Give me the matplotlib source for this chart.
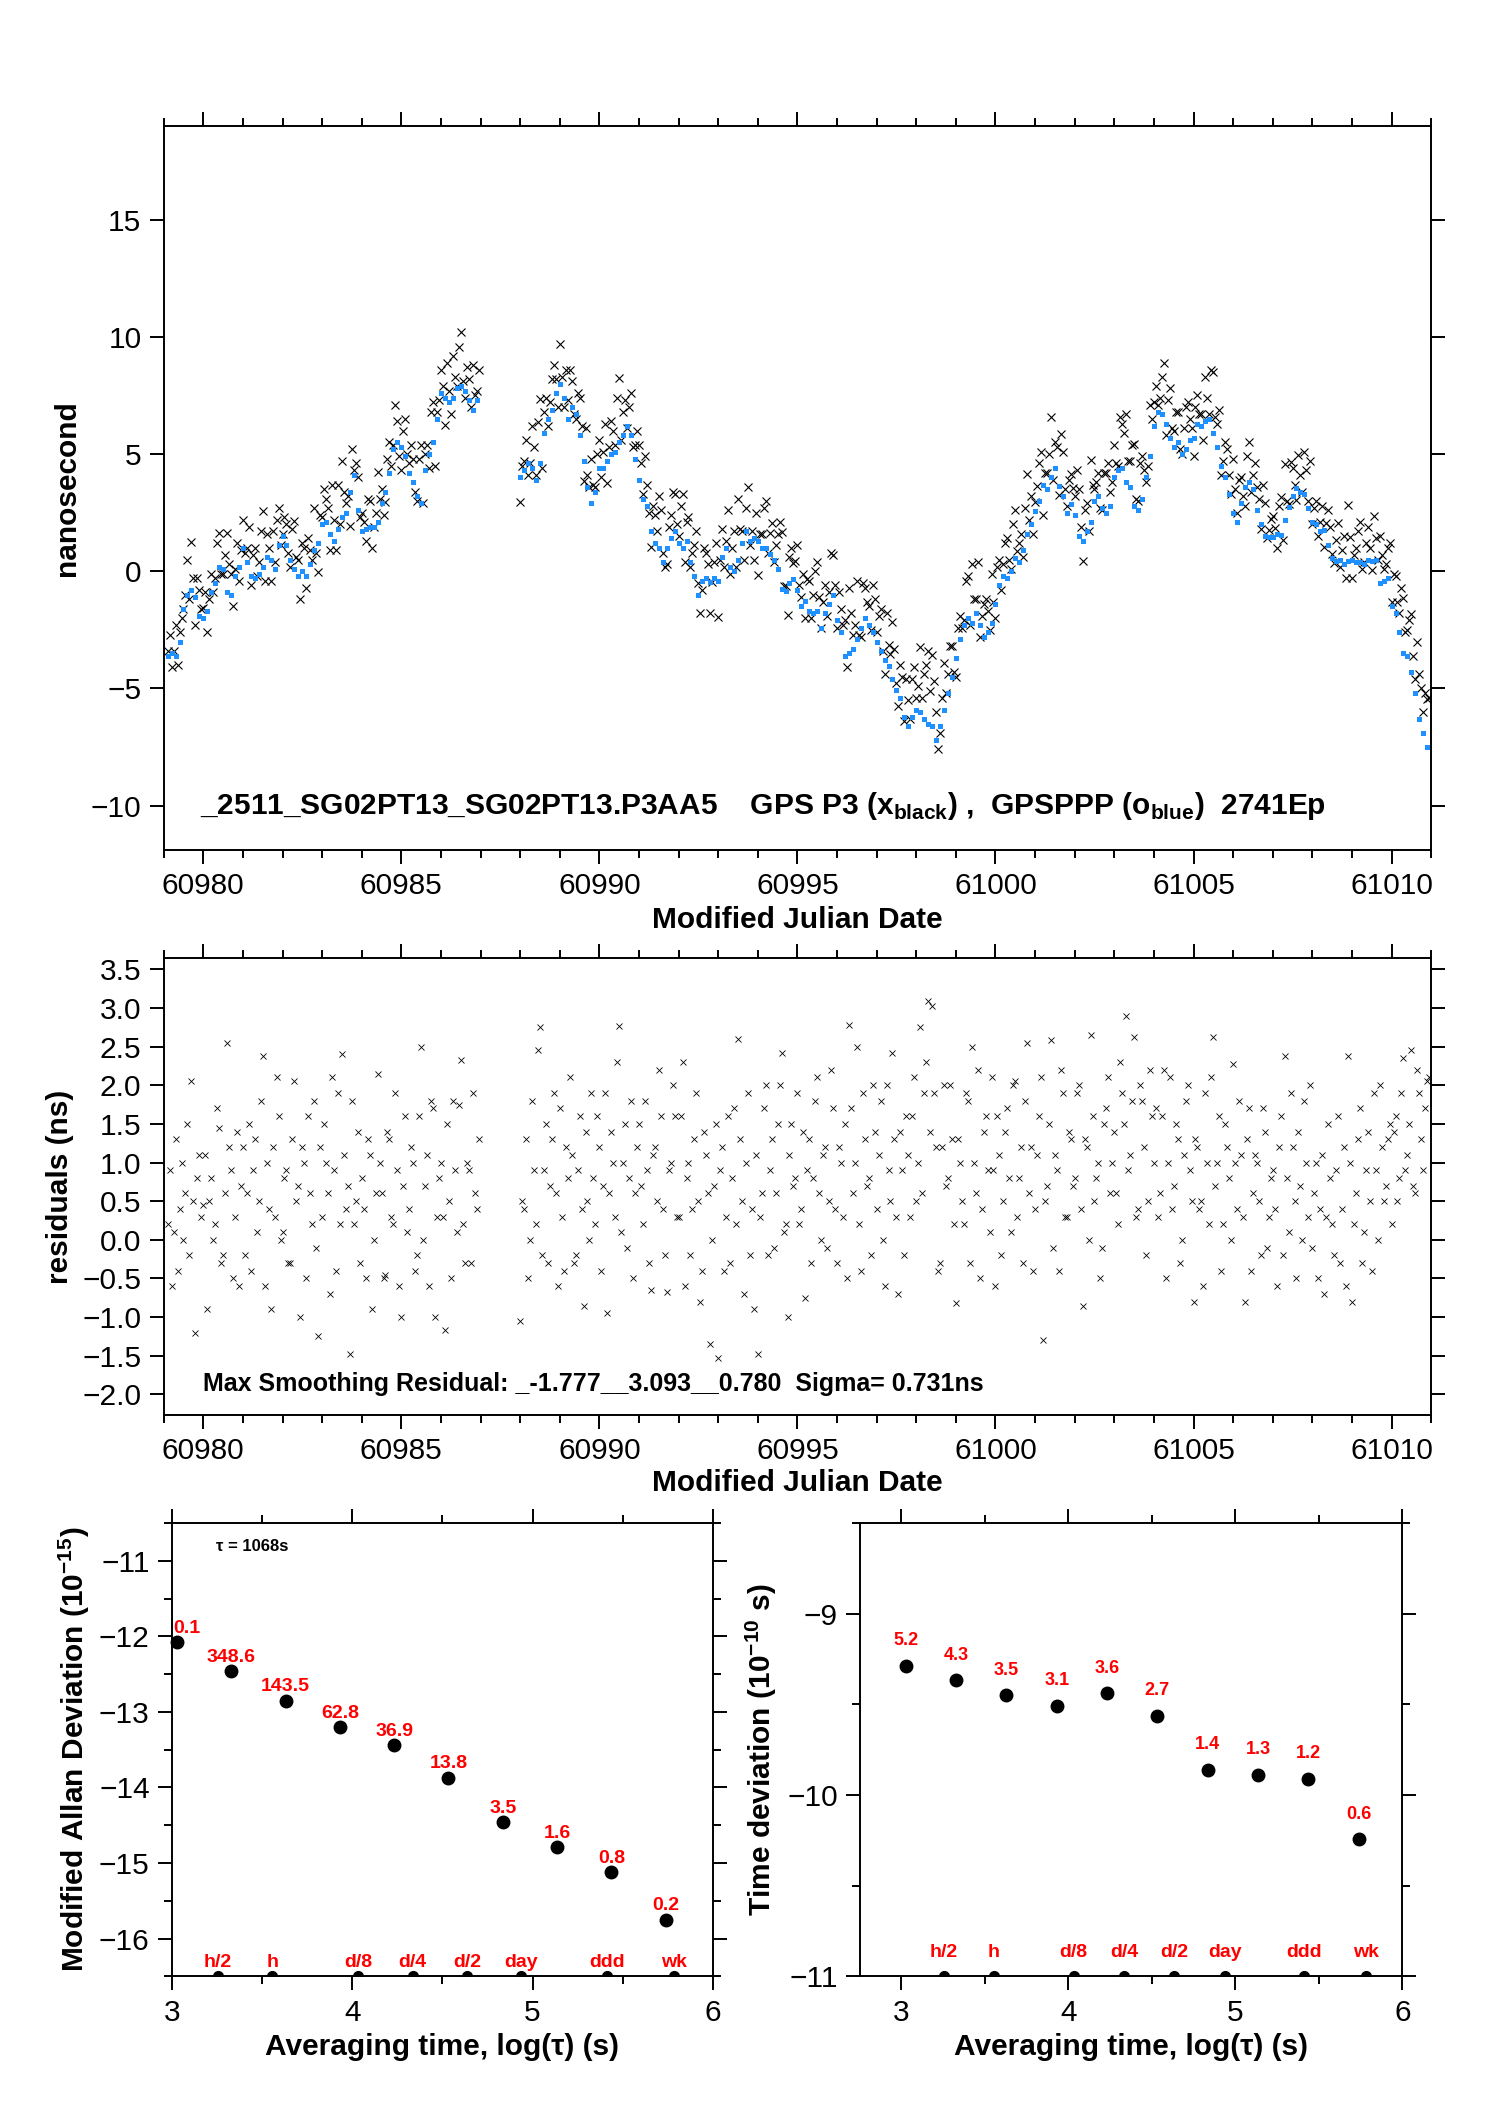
import numpy as np
import matplotlib
matplotlib.use('Agg')
import matplotlib.pyplot as plt
from matplotlib.ticker import MultipleLocator, FuncFormatter, FormatStrFormatter

plt.rcParams['font.family'] = ['Liberation Sans', 'DejaVu Sans']
plt.rcParams['mathtext.fontset'] = 'custom'
plt.rcParams['mathtext.rm'] = 'Liberation Sans'
plt.rcParams['mathtext.bf'] = 'Liberation Sans:bold'
plt.rcParams['axes.linewidth'] = 1.4

# ---- clock comparison, sampled every 0.1 d (two segments, gap at 60987) ----
step = 0.1
half = 0.05
start_a = 60979.1
start_b = 60988.0

# GPSPPP (blue)
blue_a = [-3.6, -3.5, -3.6, -3.0, -1.6, -1.0, -0.8, -1.1, -1.9,
          -2.0, -1.7, -0.9, -0.5, 0.2, 0.1, -0.9, -1.0, -0.2, 0.2,
          1.0, 0.4, -0.2, -0.3, -0.1, 0.2, 0.6, 0.5, 0.1, 1.1,
          1.5, 1.1, 0.5, 0.1, -0.2, 0.0, -0.2, 0.3, 0.9, 1.2,
          2.0, 2.1, 1.6, 1.3, 1.8, 2.3, 2.5, 3.4, 4.1, 2.6,
          1.7, 1.8, 1.9, 1.9, 2.1, 2.9, 3.4, 4.2, 5.2, 5.5,
          5.3, 4.9, 4.2, 3.8, 3.2, 2.9, 4.3, 5.0, 5.5, 6.5,
          7.6, 7.4, 7.2, 7.4, 7.8, 7.9, 7.7, 7.3, 6.9, 7.3]
blue_b = [4.0, 4.3, 4.6, 4.4, 3.9, 4.6, 5.9, 6.5, 6.9, 7.6,
          8.0, 7.4, 6.5, 7.0, 6.7, 5.8, 4.7, 3.6, 2.9, 3.4,
          4.4, 4.4, 4.7, 5.0, 5.1, 5.5, 5.8, 6.2, 5.8, 4.8,
          3.9, 3.1, 2.8, 1.7, 1.2, 1.0, 0.4, 1.0, 1.4, 1.7,
          1.2, 1.0, 1.3, 0.4, -0.2, -1.0, -0.4, -0.3, -0.45, -0.3,
          -0.4, 0.6, 1.0, 0.2, 0.0, 0.5, 1.2, 1.7, 1.3, 1.4,
          1.3, 1.0, 1.0, 0.75, 0.5, 0.1, -0.75, -0.85, -0.5, -0.35,
          -0.8, -1.5, -1.25, -1.7, -1.8, -1.7, -2.4, -1.8, -1.4, -1.0,
          -2.1, -2.6, -3.6, -3.5, -3.3, -2.9, -2.4, -2.0, -2.3, -2.6,
          -3.0, -3.4, -3.8, -4.05, -4.6, -5.05, -5.4, -6.2, -6.6, -6.2,
          -5.9, -6.0, -6.3, -6.5, -6.6, -7.2, -6.6, -5.9, -5.2, -4.5,
          -3.7, -2.9, -2.3, -2.0, -2.2, -1.8, -2.3, -2.8, -2.6, -2.2,
          -1.4, -0.6, -0.2, -0.3, 0.0, 0.55, 0.4, 0.9, 1.6, 2.0,
          2.55, 3.0, 3.7, 3.5, 4.0, 4.4, 3.65, 3.2, 2.5, 2.85,
          2.4, 1.5, 1.3, 1.7, 2.1, 3.0, 3.2, 2.7, 2.5, 2.8,
          4.0, 4.3, 4.4, 3.8, 3.6, 2.8, 2.6, 3.1, 4.0, 4.9,
          6.2, 6.8, 6.7, 6.3, 5.7, 5.3, 5.5, 5.0, 5.2, 5.6,
          5.7, 6.3, 6.2, 6.4, 6.5, 5.9, 5.3, 4.5, 4.0, 3.3,
          2.5, 2.1, 2.9, 3.6, 3.8, 3.5, 2.6, 2.0, 1.5, 1.45,
          1.45, 1.6, 1.55, 2.2, 2.75, 3.2, 3.55, 3.4, 3.3, 2.7,
          2.1, 2.0, 1.7, 1.75, 1.1, 0.55, 0.45, 0.5, 0.3, 0.45,
          0.5, 0.4, 0.4, 0.3, 0.5, 0.45, 0.5, -0.5, -0.4, -0.3,
          -1.5, -1.8, -2.6, -3.5, -3.6, -4.3, -5.2, -6.3, -6.9, -7.5]

# smoothing residuals of GPS P3 at the same epochs (black = blue + residual)
resid_a = [0.2, -0.6, 1.3, 0.4, 0.0, 1.5, 2.05, -1.2, 1.1,
           0.45, -0.9, 0.8, 0.2, 1.45, -0.2, 2.54, 0.9, 0.3, -0.6,
           1.2, 0.6, -0.4, 1.3, 0.5, 2.38, 1.0, -0.9, 0.3, 1.6,
           0.1, 0.9, -0.3, 2.05, 0.7, 1.2, -0.5, 0.6, 1.8, -1.25,
           0.3, 1.0, -0.7, 0.9, 1.9, 2.41, 0.4, -1.48, 0.2, 1.4,
           0.8, -0.5, 1.1, 0.0, 2.15, 0.6, -0.45, 1.3, 0.2, 0.9,
           -1.0, 1.6, 0.4, 1.0, -0.2, 2.49, 0.7, -0.6, 1.7, 0.3,
           1.0, -1.17, 0.5, 1.8, 0.1, 2.32, -0.3, 0.9, 1.9, 0.4]
resid_b = [-1.05, 0.4, -0.5, 1.8, 0.2, 2.75, 0.9, -0.3, 1.3, 0.6,
           1.7, -0.4, 0.8, 1.1, -0.2, 1.6, -0.85, 0.5, 1.9, 0.2,
           1.2, 0.7, -0.95, 1.4, 0.3, 2.76, 1.0, -0.1, 1.8, 0.6,
           1.5, 0.2, 0.9, -0.65, 1.2, 2.2, 0.4, -0.68, 1.0, 1.6,
           0.3, 2.3, 0.8, -0.2, 1.3, 0.5, -0.4, 1.1, -1.35, 0.7,
           -1.53, 1.2, 0.3, -0.3, 1.7, 2.6, 0.5, 1.0, -0.2, -0.9,
           -1.48, 0.6, 2.0, 0.9, -0.1, 1.5, 2.42, 0.2, 1.1, 0.7,
           1.9, 0.4, -0.75, 1.3, 0.8, 2.1, 0.0, 1.2, 0.5, 1.7,
           -0.3, 1.0, 1.5, 2.78, 0.6, 2.5, -0.4, 1.3, 0.8, 2.0,
           0.4, 1.8, -0.6, 0.9, 2.42, 0.3, 1.4, -0.2, 1.1, 1.6,
           0.5, 2.75, 1.9, 3.09, 3.03, 1.2, -0.3, 2.0, 0.8, 1.3,
           -0.82, 1.0, 0.2, 1.8, 2.5, 0.6, -0.5, 1.4, 0.9, 2.1,
           -0.6, 1.1, 0.5, 1.7, 0.1, 2.05, 0.8, -0.3, 2.55, 1.2,
           0.4, 1.6, -1.3, 0.7, 2.58, 1.1, -0.4, 1.9, 0.3, 1.3,
           0.8, 2.0, -0.86, 1.2, 2.65, 0.5, 1.0, -0.1, 1.7, 0.6,
           1.4, 0.2, 1.9, 2.9, 1.1, 2.62, 0.4, 1.8, -0.2, 2.2,
           1.0, 0.3, 1.6, -0.5, 2.1, 0.7, 1.3, 0.0, 1.8, 0.9,
           -0.8, 1.2, 0.5, 1.9, 0.2, 2.62, 1.0, -0.4, 1.5, 0.8,
           2.28, 0.4, 1.1, -0.8, 1.7, 0.6, 1.0, -0.2, 1.4, 0.3,
           0.9, -0.6, 1.6, 2.38, 0.1, 1.2, -0.5, 0.7, 1.8, 0.3,
           -0.1, 1.0, 0.4, -0.7, 1.5, 0.2, 0.9, -0.3, 1.2, 2.38,
           -0.8, 0.6, 1.7, 0.1, 1.4, -0.4, 0.9, 2.0, 0.5, 1.3,
           0.2, 1.6, 0.8, 2.35, 1.1, 2.46, 0.6, 1.9, 0.9, 2.05]

# residuals at the in-between epochs (0.05 d later)
resid2_a = [0.9, 0.1, -0.4, 1.0, 0.6, -0.2, 0.5, 0.8, 0.3,
            1.1, 0.5, 0.0, 1.7, -0.3, 0.6, 1.2, -0.5, 1.4, 0.7,
            -0.2, 1.5, 0.9, 0.1, 1.8, -0.6, 0.4, 1.2, 2.1, 0.0,
            0.8, -0.3, 1.3, 0.5, -1.0, 1.0, 1.6, 0.2, -0.1, 1.2,
            1.5, 0.6, 2.1, -0.4, 0.2, 1.1, 0.7, 1.8, 0.5, -0.3,
            0.4, 1.3, -0.9, 0.6, 1.0, -0.5, 1.4, 0.3, 1.9, -0.6,
            0.7, 0.1, 1.2, -0.4, 1.6, 0.0, 1.1, 1.8, -1.0, 0.8,
            0.3, 1.5, -0.5, 0.9, 1.75, 0.2, 1.0, -0.3, 0.6, 1.3]
resid2_b = [0.5, 1.3, 0.0, 0.9, 2.46, -0.2, 1.5, 0.7, 1.9, -0.6,
            0.3, 1.2, 2.1, -0.3, 0.9, 0.4, 1.4, 0.0, 0.8, 1.6,
            -0.4, 1.9, 0.6, 1.0, 2.3, 0.1, 1.5, 0.8, -0.5, 1.2,
            0.7, 1.8, -0.3, 1.1, 0.5, 1.6, -0.2, 0.9, 2.0, 0.3,
            1.6, -0.6, 1.0, 0.4, 1.9, -0.8, 1.4, 0.6, 0.0, 1.5,
            0.9, -0.4, 1.6, 0.8, 0.2, 1.3, -0.7, 1.9, 0.4, 1.1,
            0.3, 1.7, -0.2, 1.3, 0.6, 2.0, 0.1, -1.0, 1.5, 0.8,
            0.2, 1.4, 0.9, -0.3, 1.8, 0.6, 1.1, -0.1, 2.2, 0.4,
            1.2, 0.3, -0.5, 1.7, 1.0, 0.2, 1.9, 0.7, -0.2, 1.4,
            1.1, 0.0, 2.0, 0.5, 1.3, -0.7, 0.9, 1.6, 0.3, 2.1,
            1.0, 0.6, 2.3, 1.4, 1.9, -0.4, 1.2, 0.7, 2.0, 0.2,
            1.3, 0.5, 1.9, -0.3, 1.0, 2.2, 0.4, 1.6, 0.1, 0.9,
            1.6, -0.2, 1.4, 0.8, 2.0, 0.3, 1.2, 1.8, 0.6, -0.4,
            1.1, 2.1, 0.5, 1.5, -0.1, 0.9, 2.2, 0.3, 1.4, 0.7,
            1.9, 0.4, 1.3, 0.0, 1.6, 0.8, -0.5, 1.5, 2.1, 1.0,
            0.6, 2.3, 1.5, 0.9, 1.8, 0.3, 2.0, 1.2, 0.5, 1.6,
            1.7, 0.6, 2.2, 1.0, 0.4, 1.5, -0.3, 1.1, 2.0, 0.5,
            1.3, 0.4, -0.6, 1.0, 2.1, 0.7, 1.6, 0.2, 1.2, 0.0,
            1.0, 1.8, 0.3, 1.3, -0.4, 1.1, 0.5, 1.7, -0.1, 0.8,
            0.4, 1.2, -0.2, 0.8, 1.9, 0.5, 1.4, 0.0, 1.0, 2.0,
            0.6, -0.5, 1.1, 0.3, 0.8, -0.2, 1.6, 0.4, -0.6, 1.0,
            0.2, 1.3, -0.3, 0.9, 0.5, 1.9, 0.0, 1.2, 0.7, 1.5,
            1.4, 0.5, 1.9, 0.9, 1.5, 0.7, 2.2, 1.3, 1.7, 2.1]

# ---- stability ----
tau = [1068, 2136, 4272, 8544, 17088, 34176, 68352, 136704, 273408, 546816]
mdev = [-12.08, -12.46, -12.85, -13.2, -13.44, -13.87, -14.46, -14.79, -15.12, -15.75]
mdev_lbl = ['0.1', '348.6', '143.5', '62.8', '36.9', '13.8', '3.5', '1.6', '0.8', '0.2']
tdev = [-9.287, -9.368, -9.451, -9.509, -9.438, -9.564, -9.862, -9.889, -9.911, -10.245]
tdev_lbl = ['5.2', '4.3', '3.5', '3.1', '3.6', '2.7', '1.4', '1.3', '1.2', '0.6']
mark_names = ['h/2', 'h', 'd/8', 'd/4', 'd/2', 'day', 'ddd', 'wk']
mark_sec = [1800, 3600, 10800, 21600, 43200, 86400, 259200, 604800]

mjd_a = start_a + step * np.arange(len(blue_a))
mjd_b = start_b + step * np.arange(len(blue_b))
mjd = np.concatenate([mjd_a, mjd_b])
blue = np.array(blue_a + blue_b)
resid = np.array(resid_a + resid_b)
resid2 = np.array(resid2_a + resid2_b)
mjd_all = np.concatenate([mjd, mjd + half])
resid_all = np.concatenate([resid, resid2])
black_all = np.concatenate([blue + resid, blue + resid2])

TICK = 21.5
LAB = 21.5

def minus_fmt(fmt):
    return FuncFormatter(lambda v, p: (fmt % v).replace('-', '\u2212'))

def style(ax):
    ax.tick_params(which='both', direction='out', top=True, right=True,
                   labelsize=TICK, width=1.4, pad=6)
    ax.tick_params(which='major', length=10)
    ax.tick_params(which='minor', length=5.5)

fig = plt.figure(figsize=(14.88, 21.05), dpi=100)

# top panel
ax1 = fig.add_axes([0.110, 0.5961, 0.8518, 0.3441])
ax1.plot(mjd_all, black_all, ls='none', marker='x', ms=5.5, mew=0.8, color='black')
ax1.plot(mjd, blue, ls='none', marker='s', ms=3.6, mew=0, color='#1E90FF')
ax1.set_xlim(60979, 61011)
ax1.set_ylim(-11.9, 19.0)
ax1.xaxis.set_major_locator(MultipleLocator(5))
ax1.xaxis.set_minor_locator(MultipleLocator(1))
ax1.xaxis.set_major_formatter(FormatStrFormatter('%d'))
ax1.yaxis.set_major_locator(MultipleLocator(5))
style(ax1)
ax1.set_xlabel('Modified Julian Date', fontsize=LAB, fontweight='bold', va='center')
ax1.xaxis.set_label_coords(0.5, -0.097)
ax1.set_ylabel('nanosecond', fontsize=LAB, fontweight='bold', va='center')
ax1.yaxis.set_label_coords(-0.076, 0.5)
ax1.text(60979.92, -10, '_2511_SG02PT13_SG02PT13.P3AA5    GPS P3 (x$_{\\mathbf{black}}$) ,  '
         'GPSPPP (o$_{\\mathbf{blue}}$)  2741Ep', fontsize=LAB, fontweight='bold', va='center')

# residual panel
ax2 = fig.add_axes([0.110, 0.328, 0.8518, 0.2167])
ax2.plot(mjd_all, resid_all, ls='none', marker='x', ms=4.5, mew=0.6, color='black')
ax2.set_xlim(60979, 61011)
ax2.set_ylim(-2.26, 3.64)
ax2.xaxis.set_major_locator(MultipleLocator(5))
ax2.xaxis.set_minor_locator(MultipleLocator(1))
ax2.xaxis.set_major_formatter(FormatStrFormatter('%d'))
ax2.yaxis.set_major_locator(MultipleLocator(0.5))
ax2.yaxis.set_major_formatter(minus_fmt('%.1f'))
style(ax2)
ax2.set_xlabel('Modified Julian Date', fontsize=LAB, fontweight='bold', va='center')
ax2.xaxis.set_label_coords(0.5, -0.151)
ax2.set_ylabel('residuals (ns)', fontsize=LAB, fontweight='bold', va='center')
ax2.yaxis.set_label_coords(-0.082, 0.5)
ax2.text(60979.99, -1.86, 'Max Smoothing Residual: _-1.777__3.093__0.780  Sigma= 0.731ns',
         fontsize=18, fontweight='bold', va='center')

logtau = np.log10(tau)
logmark = np.log10(mark_sec)

# modified Allan deviation
ax3 = fig.add_axes([0.1155, 0.0611, 0.3636, 0.2154])
ax3.plot(logtau, mdev, ls='none', marker='o', ms=9, color='black', clip_on=False)
ax3.set_xlim(3, 6)
ax3.set_ylim(-16.5, -10.5)
for i, (x, y, s) in enumerate(zip(logtau, mdev, mdev_lbl)):
    ax3.annotate(s, (x, y), xytext=(7 if i == 0 else 0, 10), textcoords='offset points',
                 ha='center', va='center', color='red', fontsize=14, fontweight='bold')
ax3.plot(logmark, [-16.5] * len(logmark), ls='none', marker='o', ms=7, color='black')
for x, s in zip(logmark, mark_names):
    ax3.annotate(s, (x, -16.5), xytext=(0, 10), textcoords='offset points',
                 ha='center', va='center', color='red', fontsize=14, fontweight='bold')
ax3.text(3.245, -10.81, '\u03c4 = 1068s', fontsize=12, fontweight='bold', va='center')
ax3.xaxis.set_major_locator(MultipleLocator(1))
ax3.xaxis.set_minor_locator(MultipleLocator(0.5))
ax3.yaxis.set_major_locator(MultipleLocator(1))
ax3.yaxis.set_minor_locator(MultipleLocator(0.5))
style(ax3)
ax3.set_xlabel('Averaging time, log(\u03c4) (s)', fontsize=LAB, fontweight='bold', va='center')
ax3.xaxis.set_label_coords(0.5, -0.155)
ax3.set_ylabel('Modified Allan Deviation (10$^{\\mathbf{-15}}$)', fontsize=LAB,
               fontweight='bold', va='center')
ax3.yaxis.set_label_coords(-0.18, 0.5)

# time deviation
ax4 = fig.add_axes([0.578, 0.0611, 0.3645, 0.2154])
ax4.plot(logtau, tdev, ls='none', marker='o', ms=9, color='black', clip_on=False)
ax4.set_xlim(2.755, 6)
ax4.set_ylim(-11, -8.5)
for x, y, s in zip(logtau, tdev, tdev_lbl):
    ax4.annotate(s, (x, y), xytext=(0, 18), textcoords='offset points',
                 ha='center', va='center', color='red', fontsize=13, fontweight='bold')
ax4.plot(logmark, [-11] * len(logmark), ls='none', marker='o', ms=7, color='black')
for x, s in zip(logmark, mark_names):
    ax4.annotate(s, (x, -11), xytext=(0, 17.5), textcoords='offset points',
                 ha='center', va='center', color='red', fontsize=14, fontweight='bold')
ax4.xaxis.set_major_locator(MultipleLocator(1))
ax4.xaxis.set_minor_locator(MultipleLocator(0.5))
ax4.yaxis.set_major_locator(MultipleLocator(1))
ax4.yaxis.set_minor_locator(MultipleLocator(0.5))
style(ax4)
ax4.set_xlabel('Averaging time, log(\u03c4) (s)', fontsize=LAB, fontweight='bold', va='center')
ax4.xaxis.set_label_coords(0.5, -0.155)
ax4.set_ylabel('Time deviation (10$^{\\mathbf{-10}}$ s)', fontsize=LAB,
               fontweight='bold', va='center')
ax4.yaxis.set_label_coords(-0.182, 0.5)

fig.savefig('out.png', dpi=100)
